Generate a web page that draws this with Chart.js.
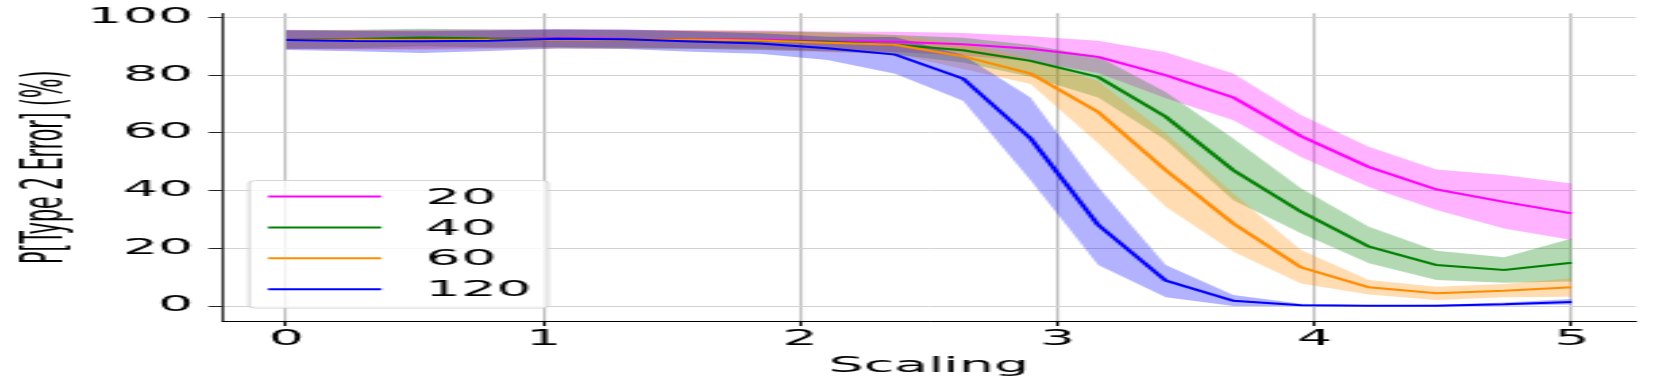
<!DOCTYPE html>
<html>
<head>
<meta charset="utf-8">
<script src="https://cdn.jsdelivr.net/npm/chart.js@4.4.1/dist/chart.umd.min.js"></script>
<style>
  html, body { margin: 0; padding: 0; background: #fff; overflow: hidden; }
  /* the original figure is stretched sideways, so draw narrow and widen it */
  #chart { display: block; transform: scaleX(2.7008); transform-origin: 0 0; }
</style>
</head>
<body>
<canvas id="chart" width="615" height="388"></canvas>
<script>
const scaling = [0, 0.263, 0.526, 0.789, 1.053, 1.316, 1.579, 1.842, 2.105, 2.368,
                 2.632, 2.895, 3.158, 3.421, 3.684, 3.947, 4.211, 4.474, 4.737, 5];

const seriesLabels = ["20", "40", "60", "120"];
const seriesColors = ["#ff00ff", "#008000", "#ff8c00", "#0000ff"];
const bandColors = ["rgba(255,0,255,0.3)", "rgba(0,128,0,0.3)", "rgba(255,140,0,0.3)", "rgba(0,0,255,0.3)"];

// P[Type 2 Error] (%) - mean with upper/lower band
const mean20  = [92.5, 92.3, 92.5, 92.7, 92.9, 92.7, 92.5, 92.4, 91.8, 91.6, 90.8, 89.2, 86.4, 80.0, 72.3, 58.9, 48.2, 40.4, 36.1, 32.1];
const upper20 = [95.8, 95.6, 95.8, 95.9, 96.0, 95.8, 95.6, 95.5, 95.2, 95.1, 94.7, 93.5, 92.0, 88.0, 80.6, 66.2, 55.2, 47.3, 45.4, 42.5];
const lower20 = [89.2, 89.0, 89.2, 89.5, 89.8, 89.6, 89.4, 89.3, 88.4, 88.1, 86.9, 84.9, 80.8, 72.0, 64.4, 51.7, 41.3, 33.3, 26.9, 22.9];

const mean40  = [92.4, 92.6, 93.1, 92.8, 92.7, 92.5, 92.3, 92.0, 91.6, 90.6, 88.7, 85.0, 79.4, 65.6, 47.1, 32.7, 20.6, 14.2, 12.5, 15.0];
const upper40 = [95.6, 95.8, 96.1, 95.9, 95.8, 95.6, 95.4, 95.2, 94.9, 94.0, 93.0, 90.5, 86.5, 74.2, 58.1, 40.8, 27.5, 19.2, 16.9, 23.4];
const lower40 = [89.2, 89.4, 90.1, 89.7, 89.6, 89.4, 89.2, 88.8, 88.3, 87.2, 84.4, 79.5, 72.3, 57.5, 36.7, 25.2, 14.8, 9.0, 8.1, 8.5];

const mean60  = [92.3, 92.3, 92.2, 92.3, 92.4, 92.4, 92.4, 92.1, 91.3, 90.6, 86.6, 80.6, 67.3, 47.1, 28.6, 13.4, 6.5, 4.4, 5.3, 6.5];
const upper60 = [95.5, 95.5, 95.4, 95.5, 95.6, 95.6, 95.6, 95.3, 94.6, 93.8, 91.0, 85.5, 78.0, 59.8, 39.0, 19.4, 9.0, 6.7, 7.6, 9.6];
const lower60 = [89.1, 89.0, 88.9, 89.1, 89.2, 89.2, 89.2, 88.9, 88.0, 87.4, 82.2, 77.0, 56.4, 34.4, 18.8, 7.8, 4.0, 2.1, 3.0, 3.2];

const mean120  = [92.2, 91.9, 91.8, 92.0, 92.7, 92.5, 91.7, 91.0, 89.4, 87.2, 78.9, 58.1, 28.1, 8.8, 1.8, 0.3, 0.1, 0.1, 0.6, 1.4];
const upper120 = [95.6, 95.4, 95.3, 95.5, 96.0, 95.9, 95.3, 94.6, 93.4, 93.3, 87.0, 72.3, 41.3, 14.2, 3.8, 0.8, 0.3, 0.4, 1.2, 2.4];
const lower120 = [88.8, 88.3, 87.7, 88.4, 89.3, 89.1, 88.2, 87.5, 85.3, 80.5, 71.2, 43.6, 14.2, 3.0, 0.0, 0.0, 0.0, 0.0, 0.1, 0.5];

const xTicks = [0, 1, 2, 3, 4, 5];
const yTicks = [0, 20, 40, 60, 80, 100];

const means = [mean20, mean40, mean60, mean120];
const uppers = [upper20, upper40, upper60, upper120];
const lowers = [lower20, lower40, lower60, lower120];

const FONT = { family: "DejaVu Sans", size: 20.5 };

function pts(arr) {
  return arr.map((v, i) => ({ x: scaling[i], y: v }));
}

// bands first (under everything), then the lines on top, like matplotlib zorder
const datasets = [];
uppers.forEach((up, k) => {
  datasets.push({
    label: seriesLabels[k] + " upper",
    data: pts(up),
    borderColor: "rgba(0,0,0,0)",
    borderWidth: 0,
    backgroundColor: bandColors[k],
    pointRadius: 0,
    fill: "+1",
  });
  datasets.push({
    label: seriesLabels[k] + " lower",
    data: pts(lowers[k]),
    borderColor: "rgba(0,0,0,0)",
    borderWidth: 0,
    pointRadius: 0,
    fill: false,
  });
});
means.forEach((m, k) => {
  datasets.push({
    label: seriesLabels[k],
    data: pts(m),
    borderColor: seriesColors[k],
    borderWidth: 2,
    pointRadius: 0,
    fill: false,
    tension: 0,
  });
});
// first in the list is painted first
datasets.forEach((d, i) => (d.order = datasets.length - i));

// legend box inside the lower left of the axes
const legendBox = {
  id: "legendBox",
  afterDatasetsDraw(chart) {
    const ctx = chart.ctx;
    const ca = chart.chartArea;
    const bx = ca.left + 10, by = ca.bottom - 140.5, bw = 110.7, bh = 127.6;
    ctx.save();
    ctx.beginPath();
    ctx.roundRect(bx, by, bw, bh, 2.5);
    ctx.fillStyle = "rgba(255,255,255,0.8)";
    ctx.fill();
    ctx.lineWidth = 1;
    ctx.strokeStyle = "rgba(204,204,204,0.8)";
    ctx.stroke();
    ctx.font = FONT.size + "px " + FONT.family;
    ctx.textBaseline = "middle";
    ctx.textAlign = "left";
    seriesLabels.forEach((lab, k) => {
      const ry = by + 16 + k * 30.9;
      ctx.beginPath();
      ctx.moveTo(bx + 7, ry);
      ctx.lineTo(bx + 49, ry);
      ctx.strokeStyle = seriesColors[k];
      ctx.lineWidth = 2;
      ctx.stroke();
      ctx.fillStyle = "#000";
      ctx.fillText(lab, bx + 65.4, ry + 1.8);
    });
    ctx.restore();
  },
};

new Chart(document.getElementById("chart"), {
  type: "line",
  data: { datasets },
  options: {
    responsive: false,
    animation: false,
    devicePixelRatio: 1,
    layout: { padding: { left: 0, right: 9.3, top: 13.3, bottom: 0 } },
    plugins: {
      legend: { display: false },
      tooltip: { enabled: false },
    },
    scales: {
      x: {
        type: "linear",
        min: -0.25,
        max: 5.25,
        afterBuildTicks: (s) => { s.ticks = xTicks.map((v) => ({ value: v })); },
        afterFit: (s) => { s.height = 67; s.paddingLeft = 0; s.paddingRight = 0; },
        grid: { color: "rgba(150,150,150,0.6)", lineWidth: 1.1, tickColor: "#000", tickLength: 5, tickWidth: 1 },
        border: { color: "#000", width: 1 },
        ticks: { color: "#000", font: FONT, padding: 1.3, maxRotation: 0 },
        title: { display: true, text: "Scaling", color: "#000", font: FONT, padding: { top: 0, bottom: 9.5 } },
      },
      y: {
        type: "linear",
        min: -5.2,
        max: 101.5,
        afterBuildTicks: (s) => { s.ticks = yTicks.map((v) => ({ value: v })); },
        afterFit: (s) => { s.width = 82.2; s.paddingTop = 0; s.paddingBottom = 0; },
        grid: { color: "#d2d2d2", lineWidth: 1, tickColor: "#222", tickLength: 5, tickWidth: 1 },
        border: { color: "#000", width: 0.8 },
        ticks: { color: "#000", font: FONT, padding: 5.7 },
        title: { display: true, text: "P[Type 2 Error] (%)", color: "#000", font: FONT, padding: { top: 5.2, bottom: 0 } },
      },
    },
  },
  plugins: [legendBox],
});
</script>
</body>
</html>
